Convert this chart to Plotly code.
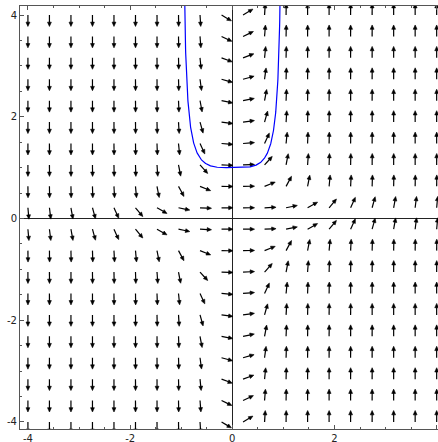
import numpy as np
import plotly.graph_objects as go

# ---- data ----
grid_x = list(np.round(np.linspace(-4, 4, 20), 6))   # 20 sample columns
grid_y = list(np.round(np.linspace(-4, 4, 20), 6))   # 20 sample rows
tick_vals = [-4, -2, 0, 2, 4]
tick_text = ["-4", "-2", "0", "2", "4"]
curve_color = "#0000ff"

def slope(x, y):
    # direction field of y' = 4 x^3 y^2
    return 4.0 * x**3 * y**2

def solution(x):
    # solution through (0, 1)
    return 1.0 / (1.0 - x**4)

# ---- arrows ----
L = 0.225      # total arrow length (data units)
HL = 0.085     # head length
HW = 0.075     # head width
sx, sy, hx, hy = [], [], [], []
for x0 in grid_x:
    for y0 in grid_y:
        s = slope(x0, y0)
        n = np.hypot(1.0, s)
        dx, dy = 1.0 / n, s / n
        px, py = -dy, dx
        bx, by = x0 + (L - HL) * dx, y0 + (L - HL) * dy
        tx, ty = x0 + L * dx, y0 + L * dy
        sx += [x0, bx + 0.01 * dx, None]
        sy += [y0, by + 0.01 * dy, None]
        hx += [tx, bx + HW / 2 * px, bx - HW / 2 * px, tx, None]
        hy += [ty, by + HW / 2 * py, by - HW / 2 * py, ty, None]

xc = np.linspace(-0.95, 0.95, 801)
yc = solution(xc)

fig = go.Figure()
fig.add_trace(go.Scatter(x=sx, y=sy, mode="lines",
                         line=dict(color="black", width=1.2),
                         hoverinfo="skip", showlegend=False))
fig.add_trace(go.Scatter(x=hx, y=hy, mode="lines", fill="toself",
                         fillcolor="black", line=dict(color="black", width=0.6),
                         hoverinfo="skip", showlegend=False))
fig.add_trace(go.Scatter(x=xc, y=yc, mode="lines",
                         line=dict(color=curve_color, width=1.2),
                         hoverinfo="skip", showlegend=False))

axis_common = dict(
    automargin=False,
    showgrid=False,
    zeroline=True, zerolinecolor="#222", zerolinewidth=1,
    showline=True, linecolor="#555", linewidth=1,
    ticks="inside", ticklen=4, tickcolor="#555", tickwidth=1,
    tickvals=tick_vals, ticktext=tick_text,
    tickfont=dict(family="DejaVu Sans", size=10, color="#222"),
    minor=dict(dtick=0.5, tick0=0, ticks="inside", ticklen=2,
               tickcolor="#555", showgrid=False),
)

fig.update_layout(
    width=438, height=442,
    margin=dict(l=20, r=0, t=6, b=13),
    paper_bgcolor="white", plot_bgcolor="white",
    xaxis=dict(range=[-4.155, 4.026], mirror="ticks", **axis_common),
    yaxis=dict(range=[-4.138, 4.177], mirror=False, **axis_common),
)

fig.write_html("out.html",
               config={"displayModeBar": False},
               post_script="document.body.style.margin='0px';document.body.style.overflow='hidden';")
